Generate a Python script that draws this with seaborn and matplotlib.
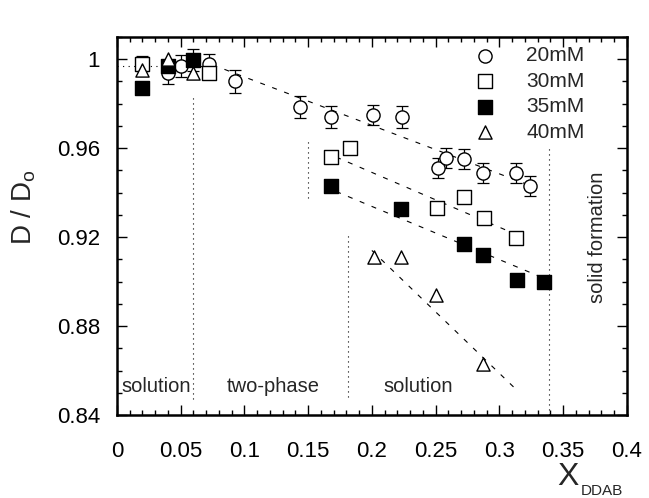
import numpy as np
import pandas as pd
import seaborn as sns
import matplotlib
matplotlib.use('Agg')
import matplotlib.pyplot as plt
from matplotlib.ticker import MultipleLocator, FixedLocator, FixedFormatter

# ============== data ==============
x20 = [0.04, 0.05, 0.06, 0.072, 0.093, 0.144, 0.168, 0.201, 0.224, 0.252, 0.258, 0.272, 0.287, 0.313, 0.324]
y20 = [0.994, 0.997, 0.9995, 0.998, 0.990, 0.9785, 0.974, 0.975, 0.974, 0.951, 0.9555, 0.955, 0.949, 0.949, 0.943]
e20 = [0.005, 0.005, 0.005, 0.0045, 0.005, 0.005, 0.005, 0.0045, 0.005, 0.0045, 0.0045, 0.0045, 0.0045, 0.0045, 0.0045]

x30 = [0.02, 0.072, 0.168, 0.183, 0.251, 0.272, 0.288, 0.313]
y30 = [0.998, 0.994, 0.956, 0.960, 0.933, 0.938, 0.9285, 0.9195]
e30 = [0.0035, 0, 0, 0, 0, 0, 0, 0]

x35 = [0.02, 0.04, 0.06, 0.168, 0.223, 0.272, 0.287, 0.314, 0.335]
y35 = [0.987, 0.997, 0.9995, 0.943, 0.9325, 0.917, 0.912, 0.9005, 0.900]

x40 = [0.02, 0.04, 0.06, 0.2015, 0.223, 0.250, 0.287]
y40 = [0.995, 1.0, 0.994, 0.911, 0.911, 0.894, 0.863]

# dashed guide lines (end points)
fit20_x, fit20_y = [0.075, 0.325], [0.9975, 0.943]
fit30_x, fit30_y = [0.172, 0.318], [0.956, 0.920]
fit35_x, fit35_y = [0.172, 0.335], [0.9405, 0.9015]
fit40_x, fit40_y = [0.200, 0.314], [0.914, 0.851]
plateau_x, plateau_y = [0.0, 0.07], [0.997, 0.997]

# dotted phase boundaries
bound_x = [0.06, 0.15, 0.181, 0.339]
bound_lo = [0.847, 0.9375, 0.848, 0.840]
bound_hi = [0.983, 0.9636, 0.922, 0.960]

xtick_vals = [0, 0.05, 0.1, 0.15, 0.2, 0.25, 0.3, 0.35, 0.4]
xtick_labels = ['0', '0.05', '0.1', '0.15', '0.2', '0.25', '0.3', '0.35', '0.4']
ytick_vals = [0.84, 0.88, 0.92, 0.96, 1.0]
ytick_labels = ['0.84', '0.88', '0.92', '0.96', '1']

# ============== plotting ==============
sns.set_style('ticks')
plt.rcParams['font.family'] = ['Liberation Sans', 'DejaVu Sans']
plt.rcParams['mathtext.fontset'] = 'custom'
plt.rcParams['mathtext.rm'] = 'Liberation Sans'

fig = plt.figure(figsize=(6.49, 4.98), dpi=100)
ax = fig.add_axes([0.180, 0.1667, 0.786, 0.759])

dash = (0, (4.5, 7))
for fx, fy in [(fit20_x, fit20_y), (fit30_x, fit30_y), (fit35_x, fit35_y), (fit40_x, fit40_y)]:
    sns.lineplot(x=fx, y=fy, ax=ax, color='black', lw=0.8, linestyle=dash)
ax.plot(plateau_x, plateau_y, color='black', lw=0.8, linestyle=(0, (1, 4)))
ax.vlines(bound_x, bound_lo, bound_hi, colors='black', lw=0.8, linestyles=[(0, (1, 3.5))])

# error bars
ax.errorbar(x20, y20, yerr=e20, fmt='none', ecolor='black', elinewidth=0.9, capsize=4, capthick=0.9, zorder=2)
m30 = np.array(e30) > 0
ax.errorbar(np.array(x30)[m30], np.array(y30)[m30], yerr=np.array(e30)[m30], fmt='none',
            ecolor='black', elinewidth=0.9, capsize=4, capthick=0.9, zorder=2)

ms = 90
sns.scatterplot(x=x20, y=y20, ax=ax, marker='o', s=ms, facecolor='white', edgecolor='black', linewidth=1, label='20mM', zorder=3)
sns.scatterplot(x=x30, y=y30, ax=ax, marker='s', s=ms, facecolor='white', edgecolor='black', linewidth=1, label='30mM', zorder=3)
sns.scatterplot(x=x35, y=y35, ax=ax, marker='s', s=ms, facecolor='black', edgecolor='black', linewidth=1, label='35mM', zorder=3)
sns.scatterplot(x=x40, y=y40, ax=ax, marker='^', s=ms, facecolor='white', edgecolor='black', linewidth=1, label='40mM', zorder=3)

ax.legend(loc='upper left', bbox_to_anchor=(0.701, 0.975), frameon=False, fontsize=15,
          handlelength=1.0, handletextpad=1.5, labelspacing=0.31, borderpad=0, borderaxespad=0)

# region labels
ax.text(0.004, 0.8526, 'solution', fontsize=14.5, ha='left', va='center')
ax.text(0.123, 0.8526, 'two-phase', fontsize=14.5, ha='center', va='center')
ax.text(0.236, 0.8526, 'solution', fontsize=14.5, ha='center', va='center')
ax.text(0.377, 0.920, 'solid formation', fontsize=14.5, ha='center', va='center', rotation=90)

ax.set_xlim(0, 0.4)
ax.set_ylim(0.84, 1.01)
ax.xaxis.set_major_locator(FixedLocator(xtick_vals))
ax.xaxis.set_major_formatter(FixedFormatter(xtick_labels))
ax.xaxis.set_minor_locator(MultipleLocator(0.01))
ax.yaxis.set_major_locator(FixedLocator(ytick_vals))
ax.yaxis.set_major_formatter(FixedFormatter(ytick_labels))
ax.yaxis.set_minor_locator(MultipleLocator(0.01))
ax.tick_params(which='both', direction='in', top=True, right=True, width=1, colors='black')
ax.tick_params(which='major', length=7.5)
ax.tick_params(which='minor', length=3.8)
ax.tick_params(axis='x', which='major', labelsize=16, pad=19)
ax.tick_params(axis='y', which='major', labelsize=16, pad=12)
for sp in ax.spines.values():
    sp.set_linewidth(1.8)
    sp.set_color('black')

ax.set_ylabel('D / D$_{\\rm o}$', fontsize=20)
ax.yaxis.set_label_coords(-0.155, 0.55)
ax.set_xlabel('X', fontsize=23)
ax.xaxis.set_label_coords(0.884, -0.125)
ax.text(0.951, -0.202, 'DDAB', fontsize=11, transform=ax.transAxes, ha='center', va='center')

fig.savefig('out.png', dpi=100)
